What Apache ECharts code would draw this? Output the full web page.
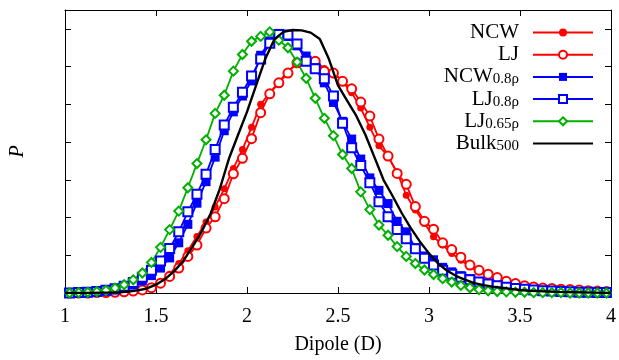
<!DOCTYPE html>
<html>
<head>
<meta charset="utf-8">
<script src="https://cdn.jsdelivr.net/npm/echarts@6/dist/echarts.min.js"></script>
<style>
html,body{margin:0;padding:0;background:#fff;}
#chart{width:619px;height:360px;}
</style>
</head>
<body>
<div id="chart"></div>
<script>
// Histogram bin centres (Dipole, D)
const dipoleBins = [1.025,1.075,1.125,1.175,1.225,1.275,1.325,1.375,1.425,1.475,
  1.525,1.575,1.625,1.675,1.725,1.775,1.825,1.875,1.925,1.975,
  2.025,2.075,2.125,2.175,2.225,2.275,2.325,2.375,2.425,2.475,
  2.525,2.575,2.625,2.675,2.725,2.775,2.825,2.875,2.925,2.975,
  3.025,3.075,3.125,3.175,3.225,3.275,3.325,3.375,3.425,3.475,
  3.525,3.575,3.625,3.675,3.725,3.775,3.825,3.875,3.925,3.975];

const ncw = [0,0,0,0.01,0.01, 0.02,0.04,0.06,0.10,0.17, 0.30,0.50,0.78,1.12,1.50,
  1.88,2.28,2.76,3.30,3.80, 4.39,5.00,5.30,5.60,5.87, 6.10,6.20,6.15,5.95,5.86,
  5.60,5.31,4.90,4.39,3.90, 3.62,3.20,2.59,2.20,1.85, 1.49,1.27,1.05,0.87,0.70,
  0.57,0.46,0.37,0.29,0.23, 0.18,0.14,0.12,0.10,0.08, 0.07,0.06,0.05,0.04,0.03];

const lj = [0,0,0,0.01,0.01, 0.02,0.03,0.05,0.08,0.14, 0.26,0.44,0.66,0.97,1.27,
  1.72,2.02,2.50,3.16,3.57, 4.09,4.78,5.28,5.57,5.83, 6.10,6.16,6.14,5.88,5.83,
  5.61,5.41,5.06,4.69,4.08, 3.63,3.17,2.88,2.29,1.90, 1.69,1.33,1.15,0.95,0.74,
  0.60,0.50,0.41,0.31,0.25, 0.19,0.16,0.13,0.12,0.10, 0.09,0.08,0.06,0.05,0.04];

const ncw08 = [0.00,0.01,0.01,0.03,0.05, 0.08,0.13,0.21,0.32,0.46, 0.66,0.93,1.33,1.82,2.38,
  2.95,3.60,4.30,4.80,5.22, 5.62,6.30,6.68,6.88,6.80, 6.55,6.28,5.97,5.57,5.05,
  4.55,4.08,3.55,3.05,2.72, 2.37,1.90,1.62,1.20,0.98, 0.88,0.68,0.56,0.46,0.38,
  0.30,0.24,0.20,0.16,0.13, 0.10,0.08,0.06,0.05,0.04, 0.03,0.02,0.02,0.01,0.01];

const lj08 = [0.00,0.01,0.02,0.04,0.07, 0.11,0.18,0.28,0.42,0.60, 0.85,1.18,1.62,2.15,2.62,
  3.15,3.80,4.45,4.92,5.32, 5.75,6.20,6.62,6.85,6.84, 6.60,6.14,5.94,5.68,5.22,
  4.50,3.85,3.38,2.92,2.42, 2.02,1.68,1.44,1.17,0.92, 0.74,0.60,0.50,0.42,0.35,
  0.29,0.24,0.19,0.15,0.12, 0.10,0.08,0.06,0.05,0.04, 0.03,0.02,0.02,0.01,0.01];

const lj065 = [0.00,0.01,0.02,0.04,0.07, 0.13,0.22,0.35,0.53,0.81, 1.21,1.68,2.17,2.79,3.43,
  4.06,4.76,5.24,5.88,6.32, 6.67,6.80,6.92,6.70,6.50, 6.12,5.69,5.16,4.63,4.17,
  3.67,3.30,2.68,2.21,1.80, 1.53,1.23,0.97,0.78,0.61, 0.49,0.38,0.29,0.20,0.14,
  0.09,0.06,0.04,0.03,0.02, 0.02,0.01,0.01,0.01,0.01, 0,0,0,0,0];

// Bulk (smooth curve)
const bulkX = [1.0,1.1,1.2,1.25,1.3,1.35,1.4,1.45,1.5,1.55,1.6,1.65,1.7,1.75,1.8,1.85,1.9,1.95,
  2.0,2.05,2.1,2.15,2.2,2.25,2.3,2.35,2.4,2.45,2.5,2.55,2.6,2.65,2.7,2.75,2.8,2.85,2.9,2.95,
  3.0,3.05,3.1,3.15,3.2,3.25,3.3,3.35,3.4,3.45,3.5,3.55,3.6,3.65,3.7,3.8,3.9,4.0];
const bulk = [0,0,0.01,0.01,0.02,0.04,0.07,0.12,0.22,0.37,0.58,0.85,1.22,1.62,2.1,2.75,3.55,4.18,
  4.8,5.5,6.2,6.72,6.92,6.97,6.96,6.9,6.73,6.2,5.5,5.1,4.7,4.2,3.6,3.0,2.57,2.12,1.72,1.36,
  1.05,0.78,0.59,0.45,0.35,0.26,0.21,0.17,0.14,0.11,0.08,0.06,0.05,0.04,0.03,0.02,0.01,0];

const seriesNames = ['NCW', 'LJ', 'NCW_0.8ρ', 'LJ_0.8ρ', 'LJ_0.65ρ', 'Bulk_500'];
const xTickLabels = ['1', '1.5', '2', '2.5', '3', '3.5', '4'];

const RED = '#ff0000', BLUE = '#0000ff', GREEN = '#00b000', BLACK = '#000000';
const FONT = 'Liberation Serif';

function pairs(xs, ys) { return xs.map((x, i) => [x, ys[i]]); }

const chart = echarts.init(document.getElementById('chart'), null, {renderer: 'canvas'});

function axisCommon(extra) {
  return Object.assign({
    axisLine: {show: true, onZero: false, lineStyle: {color: '#000', width: 1}},
    axisTick: {show: true, inside: true, length: 6, lineStyle: {color: '#000', width: 1}},
    splitLine: {show: false}
  }, extra);
}

const lineSeries = (name, data, color, symbol, size, extra) => Object.assign({
  name: name, type: 'line', data: data,
  xAxisIndex: 0, yAxisIndex: 0,
  symbol: symbol, symbolSize: size, showAllSymbol: true,
  lineStyle: {color: color, width: 1.8},
  itemStyle: {color: color, borderWidth: 1.8},
  animation: false, z: 2
}, extra || {});

const option = {
  animation: false,
  backgroundColor: '#fff',
  textStyle: {fontFamily: FONT},
  grid: {left: 55, right: 6, top: 10, bottom: 65},
  xAxis: [
    axisCommon({
      type: 'value', min: 1, max: 4, interval: 0.5, position: 'bottom',
      name: 'Dipole (D)', nameLocation: 'middle', nameGap: 42,
      nameTextStyle: {fontFamily: FONT, fontSize: 20, color: '#000'},
      axisLabel: {fontFamily: FONT, fontSize: 20, color: '#000', margin: 14,
        formatter: v => xTickLabels[Math.round((v - 1) / 0.5)]}
    }),
    axisCommon({type: 'value', min: 1, max: 4, interval: 0.5, position: 'top', axisLabel: {show: false}})
  ],
  yAxis: [
    axisCommon({
      type: 'value', min: 0, max: 7.5, interval: 1, position: 'left',
      name: 'P', nameLocation: 'middle', nameGap: 37, nameRotate: 90,
      nameTextStyle: {fontFamily: FONT, fontSize: 20, fontStyle: 'italic', color: '#000'},
      axisLabel: {show: false}
    }),
    axisCommon({type: 'value', min: 0, max: 7.5, interval: 1, position: 'right', axisLabel: {show: false}})
  ],
  legend: {
    orient: 'vertical', right: 20, top: 17, align: 'right',
    itemWidth: 60, itemHeight: 10, itemGap: 1.2,
    data: seriesNames.map(n => n === 'Bulk_500' ? {name: n, itemStyle: {opacity: 0}} : n),
    formatter: name => {
      const parts = name.split('_');
      return parts.length > 1 ? '{m|' + parts[0] + '}{s|' + parts[1] + '}' : '{m|' + name + '}';
    },
    textStyle: {
      fontFamily: FONT, fontSize: 21, color: '#000', padding: [0, 9, 0, 0],
      rich: {
        m: {fontFamily: FONT, fontSize: 21, lineHeight: 20, color: '#000'},
        s: {fontFamily: FONT, fontSize: 15, lineHeight: 10, verticalAlign: 'bottom', color: '#000'}
      }
    }
  },
  series: [
    lineSeries('NCW', pairs(dipoleBins, ncw), RED, 'circle', 7),
    lineSeries('LJ', pairs(dipoleBins, lj), RED, 'emptyCircle', 9),
    lineSeries('NCW_0.8ρ', pairs(dipoleBins, ncw08), BLUE, 'rect', 9),
    lineSeries('LJ_0.8ρ', pairs(dipoleBins, lj08), BLUE, 'emptyRect', 9),
    lineSeries('LJ_0.65ρ', pairs(dipoleBins, lj065), GREEN, 'emptyDiamond', 9),
    lineSeries('Bulk_500', pairs(bulkX, bulk), BLACK, 'none', 0, {lineStyle: {color: BLACK, width: 2.4}, z: 3})
  ]
};
chart.setOption(option);
</script>
</body>
</html>
